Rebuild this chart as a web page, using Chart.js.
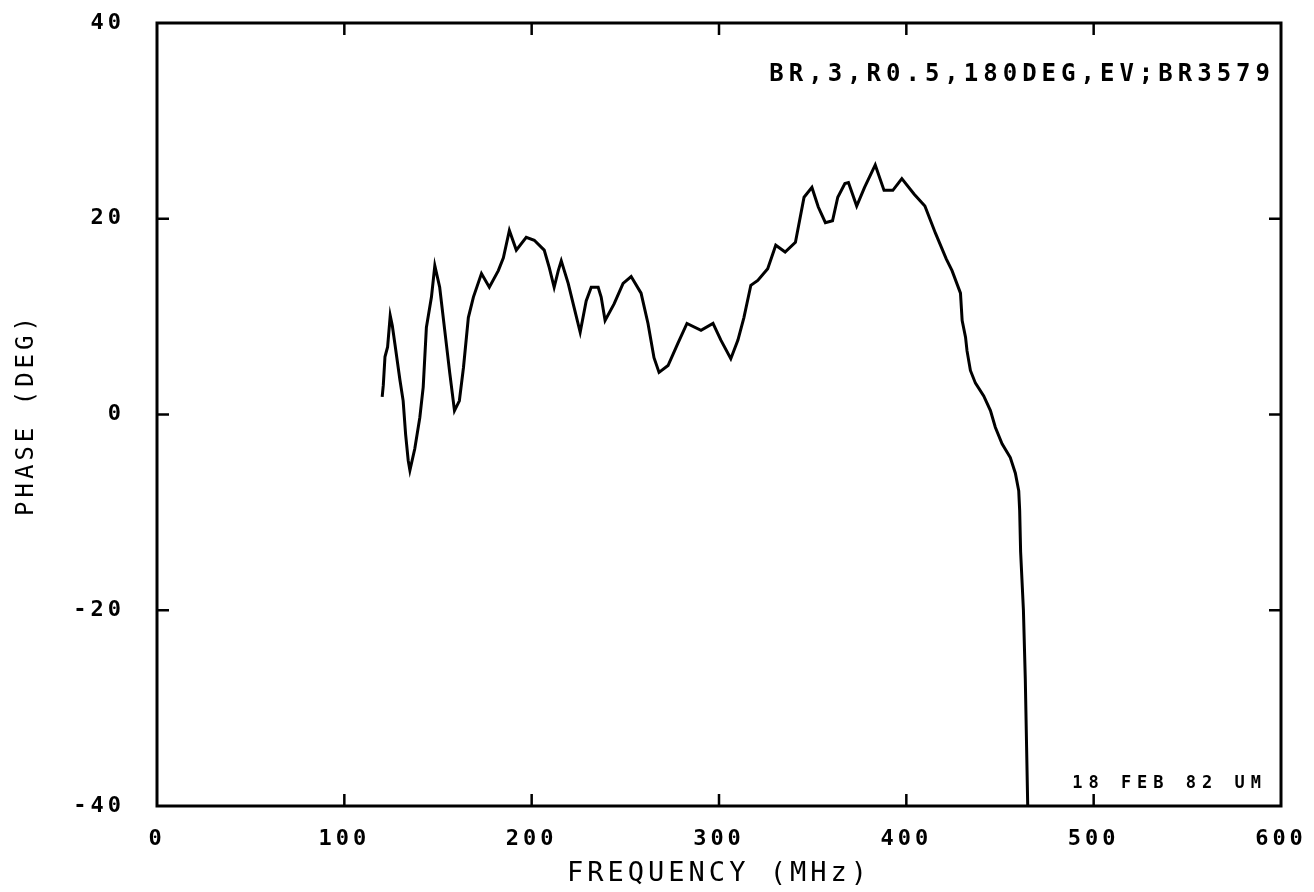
<!DOCTYPE html>
<html>
<head>
<meta charset="utf-8">
<script src="https://cdn.jsdelivr.net/npm/chart.js@4"></script>
<style>
  html, body { margin: 0; padding: 0; background: #fff; }
  #wrap { width: 1314px; height: 892px; }
</style>
</head>
<body>
<div id="wrap"><canvas id="phaseChart" width="1314" height="892"></canvas></div>
<script>
// frequency (MHz) and phase (deg)
const freq = [
  120.2, 120.8, 121.7, 123.1, 124.5, 125.6, 127.0, 129.7, 131.4, 132.7,
  134.1, 135.0, 137.6, 140.3, 142.1, 143.8, 146.5, 148.3, 150.9, 153.6,
  156.3, 158.8, 161.4, 163.6, 166.2, 168.9, 173.2, 177.4, 182.2, 184.9,
  188.1, 191.8, 197.1, 201.4, 206.7, 209.4, 212.0, 214.2, 215.8, 219.5,
  222.7, 225.9, 229.1, 231.8, 235.5, 237.1, 239.2, 244.0, 248.8, 253.1,
  258.4, 262.1, 265.3, 268.0, 272.8, 278.1, 282.9, 290.4, 296.8, 301.0,
  306.3, 310.1, 313.3, 317.0, 320.7, 326.0, 330.3, 335.3, 340.8, 345.4,
  349.6, 353.0, 356.8, 360.6, 363.4, 367.2, 369.1, 373.5, 377.7, 383.4,
  388.1, 392.8, 397.6, 404.2, 409.9, 415.6, 421.3, 424.4, 428.9, 429.8,
  431.6, 432.4, 434.2, 436.9, 441.3, 444.9, 447.5, 451.1, 455.5, 458.2,
  460.0, 460.5, 461.0, 462.5, 463.5, 464.2, 464.8
];
const phase = [
  1.8, 3.0, 5.9, 6.9, 10.1, 9.1, 7.2, 3.5, 1.4, -2.0,
  -4.7, -5.7, -3.5, -0.3, 2.8, 8.9, 12.0, 15.2, 13.0, 8.6,
  4.2, 0.4, 1.4, 4.8, 9.9, 12.0, 14.4, 13.0, 14.7, 16.0,
  18.8, 16.8, 18.1, 17.8, 16.8, 15.0, 13.0, 14.7, 15.7, 13.4,
  10.9, 8.4, 11.6, 13.0, 13.0, 12.0, 9.6, 11.3, 13.4, 14.1,
  12.4, 9.3, 5.8, 4.3, 5.0, 7.3, 9.3, 8.6, 9.3, 7.6,
  5.7, 7.6, 9.9, 13.2, 13.7, 14.9, 17.3, 16.6, 17.6, 22.2,
  23.2, 21.2, 19.6, 19.8, 22.2, 23.6, 23.7, 21.3, 23.2, 25.5,
  22.9, 22.9, 24.1, 22.5, 21.3, 18.5, 15.9, 14.7, 12.4, 9.6,
  7.9, 6.5, 4.5, 3.2, 1.9, 0.4, -1.3, -3.0, -4.4, -6.0,
  -7.8, -9.8, -14.0, -20.0, -27.0, -34.0, -40.0
];

const xTicks = [0, 100, 200, 300, 400, 500, 600];
const yTicks = [-40, -20, 0, 20, 40];
const xTitle = "FREQUENCY (MHz)";
const yTitle = "PHASE (DEG)";
const topNote = "BR,3,R0.5,180DEG,EV;BR3579";
const bottomNote = "18 FEB 82 UM";

const MONO = "'DejaVu Sans Mono', 'Liberation Mono', monospace";

// plotter style: spaced-out letters
const spacing = {
  id: 'spacing',
  beforeLayout(chart) { chart.ctx.letterSpacing = '4px'; },
  beforeDraw(chart) { chart.ctx.letterSpacing = '4px'; }
};

// box frame, inward ticks on all four sides, and the two notes
const frame = {
  id: 'frame',
  afterDatasetsDraw(chart) {
    const { ctx, chartArea: a, scales: { x, y } } = chart;
    const len = 12;
    ctx.save();
    ctx.strokeStyle = '#000';
    ctx.lineWidth = 3;
    ctx.strokeRect(a.left, a.top, a.right - a.left, a.bottom - a.top);
    ctx.lineWidth = 2.5;
    ctx.beginPath();
    xTicks.slice(1, -1).forEach(v => {
      const px = x.getPixelForValue(v);
      ctx.moveTo(px, a.bottom); ctx.lineTo(px, a.bottom - len);
      ctx.moveTo(px, a.top); ctx.lineTo(px, a.top + len);
    });
    yTicks.slice(1, -1).forEach(v => {
      const py = y.getPixelForValue(v);
      ctx.moveTo(a.left, py); ctx.lineTo(a.left + len, py);
      ctx.moveTo(a.right, py); ctx.lineTo(a.right - len, py);
    });
    ctx.stroke();

    ctx.fillStyle = '#000';
    ctx.textAlign = 'right';
    ctx.textBaseline = 'middle';
    ctx.letterSpacing = '5px';
    ctx.font = "bold 24px " + MONO;
    ctx.fillText(topNote, a.right - 6, a.top + 52);
    ctx.letterSpacing = '6px';
    ctx.font = "bold 17px " + MONO;
    ctx.fillText(bottomNote, a.right - 14, a.bottom - 22);
    ctx.restore();
  }
};

const ctx = document.getElementById('phaseChart').getContext('2d');
const phaseChart = new Chart(ctx, {
  type: 'line',
  data: {
    datasets: [{
      data: freq.map((f, i) => ({ x: f, y: phase[i] })),
      borderColor: '#000',
      borderWidth: 3,
      pointRadius: 0,
      tension: 0,
      fill: false
    }]
  },
  options: {
    responsive: false,
    animation: false,
    layout: { padding: { top: 23, right: 33, bottom: 0, left: 0 } },
    plugins: { legend: { display: false }, tooltip: { enabled: false } },
    scales: {
      x: {
        type: 'linear',
        min: 0,
        max: 600,
        afterFit(scale) {
          scale.height = 86;
          scale.paddingLeft = 0;
          scale.paddingRight = 0;
        },
        afterBuildTicks(scale) { scale.ticks = xTicks.map(v => ({ value: v })); },
        grid: { display: false },
        border: { display: false },
        ticks: {
          color: '#000',
          padding: 12,
          maxRotation: 0,
          font: { family: MONO, size: 22, weight: 'bold' }
        },
        title: {
          display: true,
          text: xTitle,
          color: '#000',
          padding: { top: 0, bottom: 2 },
          font: { family: MONO, size: 27 }
        }
      },
      y: {
        min: -40,
        max: 40,
        afterFit(scale) {
          scale.width = 157;
          scale.paddingTop = 0;
          scale.paddingBottom = 0;
        },
        afterBuildTicks(scale) { scale.ticks = yTicks.map(v => ({ value: v })); },
        grid: { display: false },
        border: { display: false },
        ticks: {
          color: '#000',
          padding: 24,
          font: { family: MONO, size: 22, weight: 'bold' }
        },
        title: {
          display: true,
          text: yTitle,
          color: '#000',
          padding: { top: 12, bottom: 0 },
          font: { family: MONO, size: 24 }
        }
      }
    }
  },
  plugins: [spacing, frame]
});
</script>
</body>
</html>
